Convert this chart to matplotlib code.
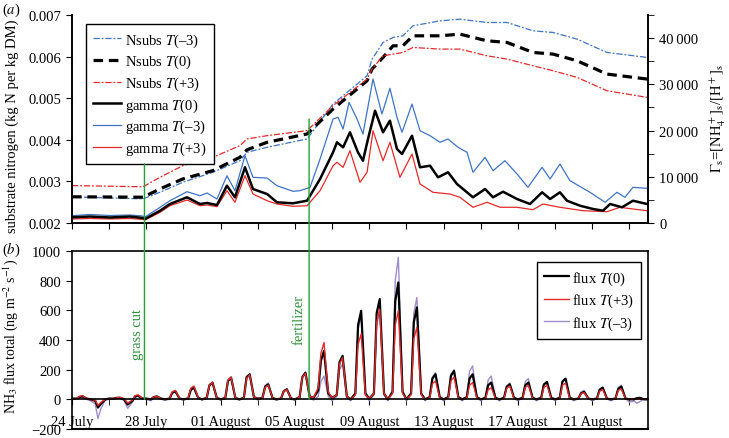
import numpy as np
import matplotlib
matplotlib.use("Agg")
import matplotlib.pyplot as plt
from matplotlib.patches import ConnectionPatch
from matplotlib.ticker import MultipleLocator

plt.rcParams['font.family'] = ['Liberation Serif', 'DejaVu Serif']
plt.rcParams['mathtext.fontset'] = 'stix'
plt.rcParams['font.size'] = 10.5

# ---------------- data ----------------
# time axis: days after 24 July 00:00
date_ticks = [0, 4, 8, 12, 16, 20, 24, 28]
date_labels = ['24 July', '28 July', '01 August', '05 August', '09 August',
               '13 August', '17 August', '21 August']
grass_cut_day = 3.9
fertilizer_day = 12.76

# Nsubs (left axis, kg N per kg DM)
nsubs_days = [0, 3.82, 4.74, 5.97, 7.59, 9.04, 9.42, 10.5, 12.65, 14.05, 15.88, 16.15,
              16.74, 17.28, 17.81, 18.35, 19.81, 20.88, 22.33, 23.41, 24.81, 25.89,
              27.18, 28.79, 30.95]
nsubs_T0 = [0.00263, 0.00262, 0.00282, 0.00306, 0.00326, 0.00358, 0.00376, 0.00394,
            0.00414, 0.00474, 0.00542, 0.00570, 0.00598, 0.00626, 0.00626, 0.00650,
            0.00650, 0.00654, 0.00638, 0.00634, 0.00610, 0.00606, 0.00590, 0.00558,
            0.00546]
nsubs_Tp3 = [0.00290, 0.00287, 0.00310, 0.00338, 0.00358, 0.00386, 0.00402, 0.00410,
             0.00422, 0.00482, 0.00546, 0.00570, 0.00602, 0.00606, 0.00610, 0.00622,
             0.00618, 0.00618, 0.00602, 0.00594, 0.00578, 0.00566, 0.00550, 0.00518,
             0.00502]
nsubs_Tm3 = [0.00263, 0.00258, 0.00274, 0.00298, 0.00322, 0.00350, 0.00370, 0.00382,
             0.00402, 0.00486, 0.00554, 0.00594, 0.00634, 0.00646, 0.00650, 0.00674,
             0.00686, 0.00690, 0.00682, 0.00682, 0.00662, 0.00658, 0.00642, 0.00610,
             0.00598]

# gamma (right axis)
gT0_days = [0, 0.97, 2.05, 3.12, 3.82, 3.93, 4.74, 5.27, 6.19, 6.89, 7.27, 7.80, 8.34,
            8.77, 9.31, 9.74, 10.50, 11.03, 11.89, 12.65, 13.35, 14.05, 14.26, 14.59,
            14.96, 15.39, 15.66, 15.93, 16.31, 16.74, 17.11, 17.49, 17.76, 18.30, 18.73,
            19.27, 19.70, 20.24, 20.72, 21.58, 22.23, 22.66, 23.20, 23.95, 24.65, 25.30,
            25.73, 26.26, 26.64, 27.34, 28.04, 28.58, 28.96, 29.60, 30.19, 30.95]
gamma_T0 = [1230, 1400, 1190, 1400, 1080, 870, 2660, 4110, 5560, 4110, 4330, 3890, 8070,
            5560, 12050, 7350, 6270, 4480, 4260, 4820, 9520, 15290, 17460, 16370,
            19620, 15290, 13480, 18170, 24290, 19620, 22130, 16010, 14920, 18880, 12050,
            12390, 9880, 10970, 8440, 5560, 7350, 5560, 6770, 5190, 4110, 6640,
            5190, 6640, 4820, 3740, 3030, 2660, 4110, 3400, 4820, 4110]
gTm3_days = [0, 0.97, 2.05, 3.12, 3.82, 3.93, 4.74, 5.27, 6.19, 6.89, 7.27, 7.80, 8.34,
             8.77, 9.31, 9.74, 10.50, 11.03, 11.89, 12.27, 12.81, 13.35, 14.05, 14.32,
             14.59, 14.91, 15.34, 15.66, 16.20, 16.68, 17.11, 17.49, 17.76, 18.30, 18.73,
             19.27, 19.81, 20.24, 20.78, 21.26, 21.58, 22.23, 22.66, 23.30, 23.95, 24.54,
             25.30, 25.73, 26.26, 26.80, 27.88, 28.69, 29.33, 29.76, 30.19, 30.95]
gamma_Tm3 = [1580, 1840, 1620, 1730, 1510, 1300, 3400, 4820, 6770, 5900, 6490, 5190, 10230,
             6990, 14560, 9880, 9730, 8070, 6860, 6990, 7720, 13840, 22500, 22860,
             20330, 26110, 22500, 19250, 31150, 23580, 29140, 22860, 19620, 25740, 19960,
             18880, 17460, 18170, 16370, 15290, 10970, 14210, 11310, 13480, 10600, 7720,
             12050, 9520, 12760, 9150, 6640, 4480, 6640, 5560, 7720, 7510]
gTp3_days = [0, 0.97, 2.05, 3.12, 3.82, 3.93, 4.74, 5.27, 6.19, 6.89, 7.27, 7.80, 8.34,
             8.77, 9.31, 9.74, 10.50, 11.03, 11.89, 12.65, 13.35, 14.05, 14.26, 14.59,
             14.96, 15.50, 15.88, 16.20, 16.74, 17.11, 17.65, 18.30, 18.73, 19.43, 20.34,
             20.88, 21.58, 22.34, 23.04, 23.95, 24.81, 25.35, 26.26, 27.50, 28.79, 29.49,
             30.19, 30.95]
gamma_Tp3 = [870, 970, 870, 970, 760, 650, 2310, 3740, 4970, 3740, 3890, 3530, 6990,
             4480, 10230, 6270, 4820, 4110, 3610, 3740, 6990, 12390, 13130, 12050,
             15640, 8800, 10970, 19960, 13480, 17460, 9880, 14920, 8440, 6640, 6270,
             5560, 3400, 4480, 3400, 3400, 2880, 4110, 3400, 2660, 2440, 3400,
             3030, 2660]

# NH3 flux (ng m-2 s-1): per day, values at the hours below
flux_hours = [0, 6, 9.5, 13.5, 19]
flux_T0 = [[5, 5, 15, 20, 5], [0, -10, -55, -30, 0], [5, 5, 10, 10, 0], [-35, -10, 20, 25, 5],
           [5, 0, 15, 20, 5], [0, 5, 45, 55, 5], [0, 5, 65, 80, 10], [0, 10, 95, 113, 10],
           [0, 10, 125, 147, 10], [0, 10, 150, 169, 15], [5, 10, 85, 100, 10], [0, 5, 55, 68, 5],
           [0, 15, 150, 180, 20], [10, 60, 260, 326, 40], [10, 30, 250, 293, 20],
           [0, 40, 500, 597, 40], [5, 40, 580, 676, 40], [0, 50, 660, 788, 50],
           [0, 40, 520, 620, 40], [0, 15, 140, 169, 15], [0, 15, 160, 191, 15],
           [0, 15, 140, 169, 15], [0, 10, 95, 113, 10], [0, 10, 85, 101, 10],
           [0, 10, 95, 113, 10], [0, 10, 100, 117, 10], [0, 10, 120, 140, 10],
           [0, 5, 40, 50, 5], [0, 5, 65, 79, 5], [0, 5, 70, 86, 5], [0, 0, 8, 10, 0]]
flux_Tp3 = [[5, 5, 20, 25, 5], [0, -5, -40, -20, 0], [5, 5, 10, 15, 5], [-25, -5, 25, 30, 5],
            [5, 0, 15, 20, 5], [0, 5, 50, 60, 5], [0, 10, 75, 90, 10], [0, 10, 95, 115, 10],
            [0, 10, 130, 150, 10], [0, 10, 140, 165, 15], [5, 10, 80, 95, 10], [0, 5, 55, 65, 5],
            [0, 15, 150, 175, 20], [10, 80, 310, 383, 50], [10, 30, 240, 280, 20],
            [0, 30, 370, 440, 30], [5, 40, 520, 608, 40], [0, 40, 500, 597, 40],
            [0, 30, 410, 484, 30], [0, 10, 105, 124, 10], [0, 10, 125, 150, 10],
            [0, 10, 95, 113, 10], [0, 5, 65, 79, 5], [0, 5, 75, 90, 5],
            [0, 5, 80, 95, 5], [0, 5, 80, 95, 5], [0, 5, 95, 110, 5],
            [0, 5, 38, 45, 5], [0, 5, 55, 65, 5], [0, 5, 60, 70, 5], [0, 0, 5, 5, 0]]
flux_Tm3 = [[0, 0, 10, 15, 0], [-10, -30, -130, -60, -5], [0, 0, 5, 10, -5], [-60, -20, 15, 20, 0],
            [0, -10, 10, 15, 0], [-5, 0, 40, 50, 0], [-5, 5, 60, 75, 5], [-5, 5, 90, 110, 5],
            [-5, 5, 120, 140, 5], [-5, 10, 140, 165, 10], [-5, 10, 95, 110, 5], [-5, 5, 55, 70, 0],
            [-5, 10, 145, 175, 10], [-5, 20, 120, 157, 20], [-10, 20, 200, 236, 10],
            [-10, 30, 470, 563, 30], [-10, 30, 500, 600, 30], [-10, 50, 800, 957, 50],
            [-10, 40, 580, 687, 40], [-10, 15, 150, 180, 10], [-10, 15, 170, 200, 10],
            [-10, 15, 190, 225, 10], [-10, 10, 130, 157, 10], [-10, 10, 90, 110, 5],
            [-10, 10, 120, 140, 10], [-10, 10, 100, 120, 10], [-10, 10, 120, 140, 10],
            [-10, 5, 50, 60, 5], [-10, 5, 65, 80, 5], [-10, 5, 80, 95, 5], [-20, -10, -27, -15, 0]]

# ---------------- styling ----------------
BLUE = '#3f74c2'
RED = '#e32a2a'
PURPLE = '#a08ccb'
GREEN = '#22a03c'
GREEN_TXT = '#2f8f3a'

W, H = 729, 439
fig = plt.figure(figsize=(W / 100, H / 100), dpi=100)

def fx(px):
    return px / W

def fy(py):
    return 1 - py / H

ax1 = fig.add_axes([fx(72), fy(224), fx(648) - fx(72), fy(16) - fy(224)])
ax1r = ax1.twinx()
ax2 = fig.add_axes([fx(72), fy(430), fx(648) - fx(72), fy(252) - fy(430)])

# ---- top panel ----
dashdot = (0, (5, 1.5, 1.5, 1.5))
l1, = ax1.plot(nsubs_days, nsubs_Tm3, color=BLUE, lw=0.9, ls=dashdot)
l2, = ax1.plot(nsubs_days, nsubs_T0, color='black', lw=2.3, ls=(0, (3, 1.8)))
l3, = ax1.plot(nsubs_days, nsubs_Tp3, color=RED, lw=0.9, ls=dashdot)
l5, = ax1r.plot(gTm3_days, gamma_Tm3, color=BLUE, lw=0.9)
l6, = ax1r.plot(gTp3_days, gamma_Tp3, color=RED, lw=0.9)
l4, = ax1r.plot(gT0_days, gamma_T0, color='black', lw=1.8)

ax1.set_xlim(0, 31)
ax1.set_ylim(0.002, 0.007)
ax1r.set_ylim(0, 45000)
ax1.set_yticks([0.002, 0.003, 0.004, 0.005, 0.006, 0.007])
ax1.set_yticklabels(['0.002', '0.003', '0.004', '0.005', '0.006', '0.007'])
ax1r.set_yticks([0, 10000, 20000, 30000, 40000])
ax1r.set_yticklabels(['0', '10\u2009000', '20\u2009000', '30\u2009000', '40\u2009000'])
ax1r.yaxis.set_minor_locator(MultipleLocator(5000))
ax1.xaxis.set_major_locator(MultipleLocator(2))
ax1.tick_params(axis='x', labelbottom=False, direction='out', length=4)
ax1.tick_params(axis='y', direction='out', length=4, pad=4)
ax1r.tick_params(axis='y', which='both', direction='out', length=4, pad=4)
for a in (ax1, ax1r):
    a.spines['top'].set_visible(False)
    for s in a.spines.values():
        s.set_linewidth(1.2)

leg1 = ax1.legend([l1, l2, l3, l4, l5, l6],
                  ['Nsubs $\\mathit{T}$(–3)', 'Nsubs $\\mathit{T}$(0)', 'Nsubs $\\mathit{T}$(+3)',
                   'gamma $\\mathit{T}$(0)', 'gamma $\\mathit{T}$(–3)', 'gamma $\\mathit{T}$(+3)'],
                  loc='upper left', bbox_to_anchor=(0.024, 0.957), borderaxespad=0,
                  fancybox=False, framealpha=1, edgecolor='black', handlelength=1.9,
                  handletextpad=0.3, labelspacing=0.3, borderpad=0.5, fontsize=10.5)
leg1.get_frame().set_linewidth(1.0)
leg1.set_zorder(10)

# ---- bottom panel ----
def flux_series(daily):
    t, v = [], []
    for d, vals in enumerate(daily):
        for h, val in zip(flux_hours, vals):
            t.append(d + h / 24)
            v.append(val)
    t.append(len(daily))
    v.append(0)
    return t, v

t0, v0 = flux_series(flux_T0)
tp, vp = flux_series(flux_Tp3)
tm, vm = flux_series(flux_Tm3)
f3, = ax2.plot(tm, vm, color=PURPLE, lw=1.0)
f1, = ax2.plot(t0, v0, color='black', lw=1.6)
f2, = ax2.plot(tp, vp, color=RED, lw=1.0)

ax2.set_xlim(0, 31)
ax2.set_ylim(-200, 1000)
ax2.set_yticks([-200, 0, 200, 400, 600, 800, 1000])
ax2.set_yticklabels(['\u2212200', '0', '200', '400', '600', '800', '1000'])
ax2.spines['bottom'].set_position(('data', 0))
ax2.set_xticks(date_ticks)
ax2.set_xticklabels(date_labels)
ax2.xaxis.set_minor_locator(MultipleLocator(2))
ax2.tick_params(axis='x', which='both', direction='out', length=4, pad=7)
ax2.tick_params(axis='y', direction='out', length=4, pad=4)
for s in ax2.spines.values():
    s.set_linewidth(1.2)
ax2.axhline(-200, color='black', lw=1.5, clip_on=False)

leg2 = ax2.legend([f1, f2, f3], ['flux $\\mathit{T}$(0)', 'flux $\\mathit{T}$(+3)', 'flux $\\mathit{T}$(–3)'],
                  loc='upper right', bbox_to_anchor=(0.988, 0.938), borderaxespad=0,
                  fancybox=False, framealpha=1, edgecolor='black', handlelength=1.7,
                  handletextpad=0.2, labelspacing=0.35, borderpad=0.5, fontsize=10.5)
leg2.get_frame().set_linewidth(1.0)

# ---- event markers ----
for day, ytop in ((grass_cut_day, 0.00342), (fertilizer_day, 0.00450)):
    con = ConnectionPatch(xyA=(day, ytop), coordsA=ax1.transData,
                          xyB=(day, 0), coordsB=ax2.transData,
                          color=GREEN, lw=1.0)
    fig.add_artist(con)
ax2.text(3.55, 446, 'grass cut', rotation=90, color=GREEN_TXT, ha='center', va='center', fontsize=10.5)
ax2.text(12.22, 540, 'fertilizer', rotation=90, color=GREEN_TXT, ha='center', va='center', fontsize=10.5)

# ---- labels ----
fig.text(fx(12), fy(126), 'substrate nitrogen (kg N per kg DM)', rotation=90,
         ha='center', va='center', fontsize=10.5)
fig.text(fx(11), fy(336), 'NH$_3$ flux total (ng m$^{\u22122}$ s$^{\u22121}$)', rotation=90,
         ha='center', va='center', fontsize=10)
fig.text(fx(718), fy(118), '$\\mathit{\\Gamma}_\\mathrm{s}$=[NH$_4^+$]$_\\mathrm{s}$/[H$^+$]$_\\mathrm{s}$',
         rotation=90, ha='center', va='center', fontsize=10.5)
fig.text(fx(2), fy(2), '($\\mathit{a}$)', ha='left', va='top', fontsize=10.5)
fig.text(fx(2), fy(250), '($\\mathit{b}$)', ha='left', va='center', fontsize=10.5)

fig.savefig('out.png', dpi=100)
